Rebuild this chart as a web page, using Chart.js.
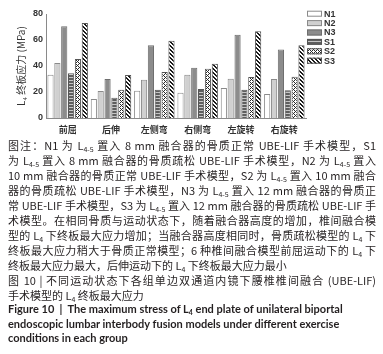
<!DOCTYPE html>
<html>
<head>
<meta charset="utf-8">
<script src="https://cdn.jsdelivr.net/npm/chart.js@4/dist/chart.umd.min.js"></script>
<style>
html,body{margin:0;padding:0;background:#fff;width:383px;height:354px;overflow:hidden;}
#wrap{position:absolute;left:0;top:0;width:383px;height:140px;}
.cap{position:absolute;left:8px;width:368px;font-family:"Noto Sans CJK SC","Noto Sans",sans-serif;color:#231f20;}
.cap div{text-align:justify;text-align-last:justify;height:15px;line-height:15px;font-size:11px;}
.cap div.last{text-align-last:left;}
sub{font-size:7px;line-height:0;vertical-align:-2px;}
.en{position:absolute;left:8px;width:370px;font-family:Lato,"Open Sans",sans-serif;font-weight:bold;color:#231f20;font-size:11px;}
.en div{height:14.5px;line-height:14.5px;white-space:nowrap;}
</style>
</head>
<body>
<div id="wrap"><canvas id="c" width="383" height="140"></canvas></div>
<div class="cap" style="top:138px;">
<div>图注：N1 为 L<sub>4-5</sub> 置入 8 mm 融合器的骨质正常 UBE-LIF 手术模型，S1</div>
<div>为 L<sub>4-5</sub> 置入 8 mm 融合器的骨质疏松 UBE-LIF 手术模型，N2 为 L<sub>4-5</sub> 置入</div>
<div>10 mm 融合器的骨质正常 UBE-LIF 手术模型，S2 为 L<sub>4-5</sub> 置入 10 mm 融合</div>
<div>器的骨质疏松 UBE-LIF 手术模型，N3 为 L<sub>4-5</sub> 置入 12 mm 融合器的骨质正</div>
<div>常 UBE-LIF 手术模型，S3 为 L<sub>4-5</sub> 置入 12 mm 融合器的骨质疏松 UBE-LIF 手</div>
<div>术模型。在相同骨质与运动状态下，随着融合器高度的增加，椎间融合模</div>
<div>型的 L<sub>4</sub> 下终板最大应力增加；当融合器高度相同时，骨质疏松模型的 L<sub>4</sub> 下</div>
<div>终板最大应力稍大于骨质正常模型；6 种椎间融合模型前屈运动下的 L<sub>4</sub> 下</div>
<div class="last">终板最大应力最大，后伸运动下的 L<sub>4</sub> 下终板最大应力最小</div>
<div>图 10 | 不同运动状态下各组单边双通道内镜下腰椎椎间融合 (UBE-LIF)</div>
<div class="last">手术模型的 L<sub>4</sub> 终板最大应力</div>
</div>
<div class="en" style="top:302px;">
<div>Figure 10 &nbsp;|&nbsp; The maximum stress of L<sub>4</sub> end plate of unilateral biportal</div>
<div>endoscopic lumbar interbody fusion models under different exercise</div>
<div>conditions in each group</div>
</div>
<script>
const categories = ['前屈','后伸','左侧弯','右侧弯','左旋转','右旋转'];
const seriesNames = ['N1','N2','N3','S1','S2','S3'];
const N1 = [33.3, 14.6, 21.0, 19.5, 23.0, 18.5];
const N2 = [42.3, 20.8, 29.4, 33.2, 30.2, 30.0];
const N3 = [70.5, 30.0, 55.9, 38.6, 64.1, 52.6];
const S1 = [34.4, 15.6, 21.8, 22.4, 21.8, 21.3];
const S2 = [45.4, 21.8, 35.3, 37.8, 31.5, 31.8];
const S3 = [73.1, 33.1, 59.4, 41.8, 66.7, 55.9];
const yTicks = [0,10,20,30,40,50,60,70,80];

function pat(w, h, rows, colors){
  const c = document.createElement('canvas'); c.width = w; c.height = h;
  const x = c.getContext('2d');
  for (let r=0;r<h;r++) for (let k=0;k<w;k++){
    x.fillStyle = colors[rows[r][k]]; x.fillRect(k,r,1,1);
  }
  return x.createPattern(c,'repeat');
}
const pS1 = pat(1,3,['0','0','1'],{'0':'#5e5e5e','1':'#c4c4c4'});
const pS2 = pat(4,4,['0101','1011','0101','1110'],{'0':'#2a2a2a','1':'#ffffff'});
const pS3 = pat(4,4,['0011','1001','1100','0110'],{'0':'#1a1a1a','1':'#ffffff'});

const fills = ['#ffffff','#d0d0d0','#8c8c8c',pS1,pS2,pS3];
const borders = ['#8a8a8a','#8a8a8a','#6e6e6e','#555555','#555555','#555555'];
const values = [N1,N2,N3,S1,S2,S3];

const legendPlugin = {
  id:'customLegend',
  afterDraw(chart){
    const ctx = chart.ctx;
    ctx.save();
    chart.data.datasets.forEach((ds,i)=>{
      const y = 13.7 + i*9.4;
      ctx.fillStyle = ds.backgroundColor;
      ctx.fillRect(307, y-3, 15, 6);
      ctx.strokeStyle = ds.borderColor; ctx.lineWidth = 1;
      ctx.strokeRect(307.5, y-2.5, 14, 5);
      ctx.fillStyle = '#333';
      ctx.font = 'bold 9px "Liberation Sans", sans-serif';
      ctx.textBaseline = 'middle'; ctx.textAlign = 'left';
      ctx.fillText(ds.label, 324, y+0.5);
    });
    ctx.restore();
  }
};

new Chart(document.getElementById('c'), {
  type:'bar',
  data:{
    labels: categories,
    datasets: seriesNames.map((n,i)=>({
      label:n, data:values[i], backgroundColor:fills[i], borderColor:borders[i], borderWidth:1,
      barPercentage:0.9, categoryPercentage:0.95
    }))
  },
  options:{
    responsive:false, animation:false, devicePixelRatio:1,
    layout:{padding:{left:0,right:77,top:14,bottom:0}},
    plugins:{legend:{display:false}, tooltip:{enabled:false}},
    scales:{
      x:{
        grid:{display:false, drawTicks:false},
        border:{display:true,color:'#8a8a8a'},
        ticks:{padding:6, color:'#333', font:{family:'"Noto Sans CJK SC"', size:9, weight:'bold'}},
        afterFit(s){ s.height = 22; }
      },
      y:{
        min:0, max:80,
        afterBuildTicks(s){ s.ticks = yTicks.map(v=>({value:v})); },
        grid:{display:false, drawTicks:false},
        border:{display:true,color:'#8a8a8a'},
        ticks:{padding:3, color:'#333', font:{family:'"Liberation Sans"', size:9, weight:'bold'}},
        title:{display:true, text:'L₄ 终板应力 (MPa)', color:'#333', padding:{top:15,bottom:0},
          font:{family:'"Noto Sans CJK SC"', size:10}},
        afterFit(s){ s.width = 46; }
      }
    }
  },
  plugins:[legendPlugin]
});
</script>
</body>
</html>
